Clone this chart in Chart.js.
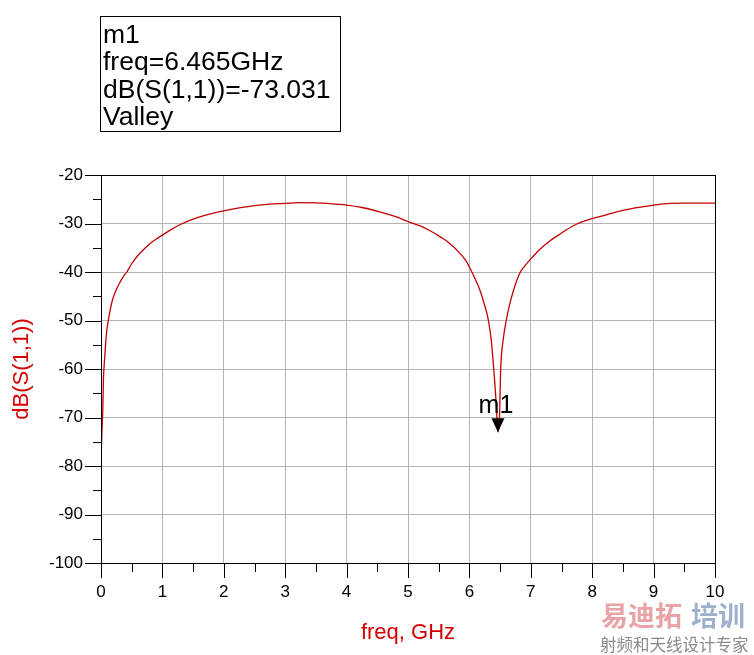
<!DOCTYPE html>
<html>
<head>
<meta charset="utf-8">
<script src="https://cdn.jsdelivr.net/npm/chart.js@4.4.1/dist/chart.umd.min.js"></script>
<style>
  html, body { margin: 0; padding: 0; background: #fff; }
  #wrap { width: 754px; height: 655px; }
</style>
</head>
<body>
<div id="wrap"><canvas id="myChart" width="754" height="655"></canvas></div>
<script>
// S11 sweep
const freqGHz = [0, 0.005, 0.015, 0.03, 0.04, 0.05, 0.065, 0.08, 0.1, 0.13, 0.17, 0.2, 0.25, 0.31, 0.36, 0.42,
    0.5, 0.6, 0.7, 0.8, 0.9, 1.0, 1.15, 1.31, 1.5, 1.69, 1.85, 2.0, 2.25, 2.5, 2.75, 3.0, 3.24, 3.5, 3.73,
    4.0, 4.25, 4.54, 4.8, 5.0, 5.2, 5.36, 5.52, 5.68, 5.85, 5.95, 6.04, 6.1, 6.17, 6.24, 6.31, 6.36, 6.39,
    6.42, 6.44, 6.465, 6.49, 6.51, 6.55, 6.6, 6.65, 6.72, 6.83, 6.9, 7.0, 7.15, 7.31, 7.45, 7.58, 7.75,
    8.0, 8.2, 8.4, 8.7, 9.0, 9.21, 9.5, 10];
const s11dB = [-78, -77, -73, -68, -62, -59.5, -56.8, -54, -51.5, -49.2, -46.6, -45.2, -43.6, -42.1, -41, -40,
    -38.3, -36.6, -35.3, -34.1, -33.2, -32.4, -31.2, -30.1, -29.1, -28.3, -27.8, -27.4, -26.8, -26.3, -26, -25.85, -25.7, -25.75, -25.9,
    -26.2, -26.7, -27.6, -28.6, -29.6, -30.5, -31.5, -32.7, -34.1, -36.2, -37.8, -40, -41.6, -43.7, -46.5, -50, -54.5, -59,
    -64, -68, -73.031, -70, -60, -54, -50, -47, -43.7, -40, -38.8, -37.3, -35.3, -33.6, -32.4, -31.3, -30.1,
    -29, -28.3, -27.6, -26.8, -26.2, -25.9, -25.8, -25.8];

const xTicks = [0, 1, 2, 3, 4, 5, 6, 7, 8, 9, 10];
const yTicks = [-100, -90, -80, -70, -60, -50, -40, -30, -20];

const markerName = "m1";
const markerFreq = 6.465;
const markerDb = -73.031;
const markerKind = "Valley";

const red = "#d40000";
const font = "'Liberation Sans', Arial, sans-serif";

const extras = {
    id: "extras",
    afterDraw(chart) {
        const ctx = chart.ctx;
        const a = chart.chartArea;
        const xs = chart.scales.x, ys = chart.scales.y;
        ctx.save();
        // frame
        ctx.strokeStyle = "#000";
        ctx.lineWidth = 1;
        ctx.strokeRect(a.left + 0.5, a.top + 0.5, a.right - a.left, a.bottom - a.top);
        // major and minor ticks
        ctx.beginPath();
        for (let i = 0; i <= 20; i++) {
            const v = i * 0.5;
            const px = Math.round(xs.getPixelForValue(v)) + 0.5;
            ctx.moveTo(px, a.bottom);
            ctx.lineTo(px, a.bottom + (i % 2 === 0 ? 15 : 9));
        }
        for (let i = 0; i <= 16; i++) {
            const v = -100 + i * 5;
            const py = Math.round(ys.getPixelForValue(v)) + 0.5;
            ctx.moveTo(a.left, py);
            ctx.lineTo(a.left - (i % 2 === 0 ? 16 : 8), py);
        }
        ctx.stroke();

        // marker
        const mx = xs.getPixelForValue(markerFreq);
        const my = ys.getPixelForValue(markerDb);
        ctx.fillStyle = "#000";
        ctx.beginPath();
        ctx.moveTo(mx, my);
        ctx.lineTo(mx - 6.5, my - 14);
        ctx.lineTo(mx + 6.5, my - 14);
        ctx.closePath();
        ctx.fill();
        ctx.font = "25px " + font;
        ctx.textAlign = "center";
        ctx.textBaseline = "alphabetic";
        ctx.fillText(markerName, mx - 2, my - 19);

        // marker readout box
        ctx.strokeRect(100.5, 16.5, 240, 115);
        ctx.textAlign = "left";
        ctx.font = "26.5px " + font;
        const lines = [markerName, "freq=" + markerFreq + "GHz", "dB(S(1,1))=" + markerDb, markerKind];
        lines.forEach((t, i) => ctx.fillText(t, 103, 43 + i * 27.3));

        // watermark
        ctx.font = "bold 27px 'Noto Sans CJK SC'";
        ctx.textBaseline = "middle";
        ctx.fillStyle = "#e9a3a6";
        ctx.fillText("易迪拓", 601, 616);
        ctx.fillStyle = "#9db1cd";
        ctx.fillText("培训", 691, 616);
        ctx.font = "16.5px 'Noto Sans CJK SC'";
        ctx.fillStyle = "#8a8a8a";
        ctx.fillText("射频和天线设计专家", 600, 645);
        ctx.restore();
    }
};

new Chart(document.getElementById("myChart"), {
    type: "line",
    data: {
        datasets: [{
            label: "dB(S(1,1))",
            data: freqGHz.map((f, i) => ({x: f, y: s11dB[i]})),
            borderColor: "#c40000",
            borderWidth: 1.3,
            pointRadius: 0,
            cubicInterpolationMode: "monotone",
        }]
    },
    options: {
        responsive: false,
        animation: false,
        layout: {padding: {top: 175, right: 39, left: 0, bottom: 0}},
        plugins: {legend: {display: false}, tooltip: {enabled: false}},
        scales: {
            x: {
                type: "linear",
                min: 0,
                max: 10,
                afterBuildTicks: s => { s.ticks = xTicks.map(v => ({value: v})); },
                afterFit: s => { s.height = 92; },
                grid: {color: "#b4b4b4", drawTicks: false},
                border: {display: true, color: "#000"},
                ticks: {color: "#000", padding: 19, maxRotation: 0, font: {family: font, size: 17}},
                title: {display: true, text: "freq, GHz", color: red, padding: {top: 4, bottom: 9},
                    font: {family: font, size: 22}},
            },
            y: {
                min: -100,
                max: -20,
                afterBuildTicks: s => { s.ticks = yTicks.map(v => ({value: v})); },
                afterFit: s => { s.width = 101; },
                grid: {color: "#b4b4b4", drawTicks: false},
                border: {display: true, color: "#000"},
                ticks: {color: "#000", padding: 18, font: {family: font, size: 17}},
                title: {display: true, text: "dB(S(1,1))", color: red, padding: {top: 9, bottom: 4},
                    font: {family: font, size: 22}},
            }
        }
    },
    plugins: [extras]
});
</script>
</body>
</html>
